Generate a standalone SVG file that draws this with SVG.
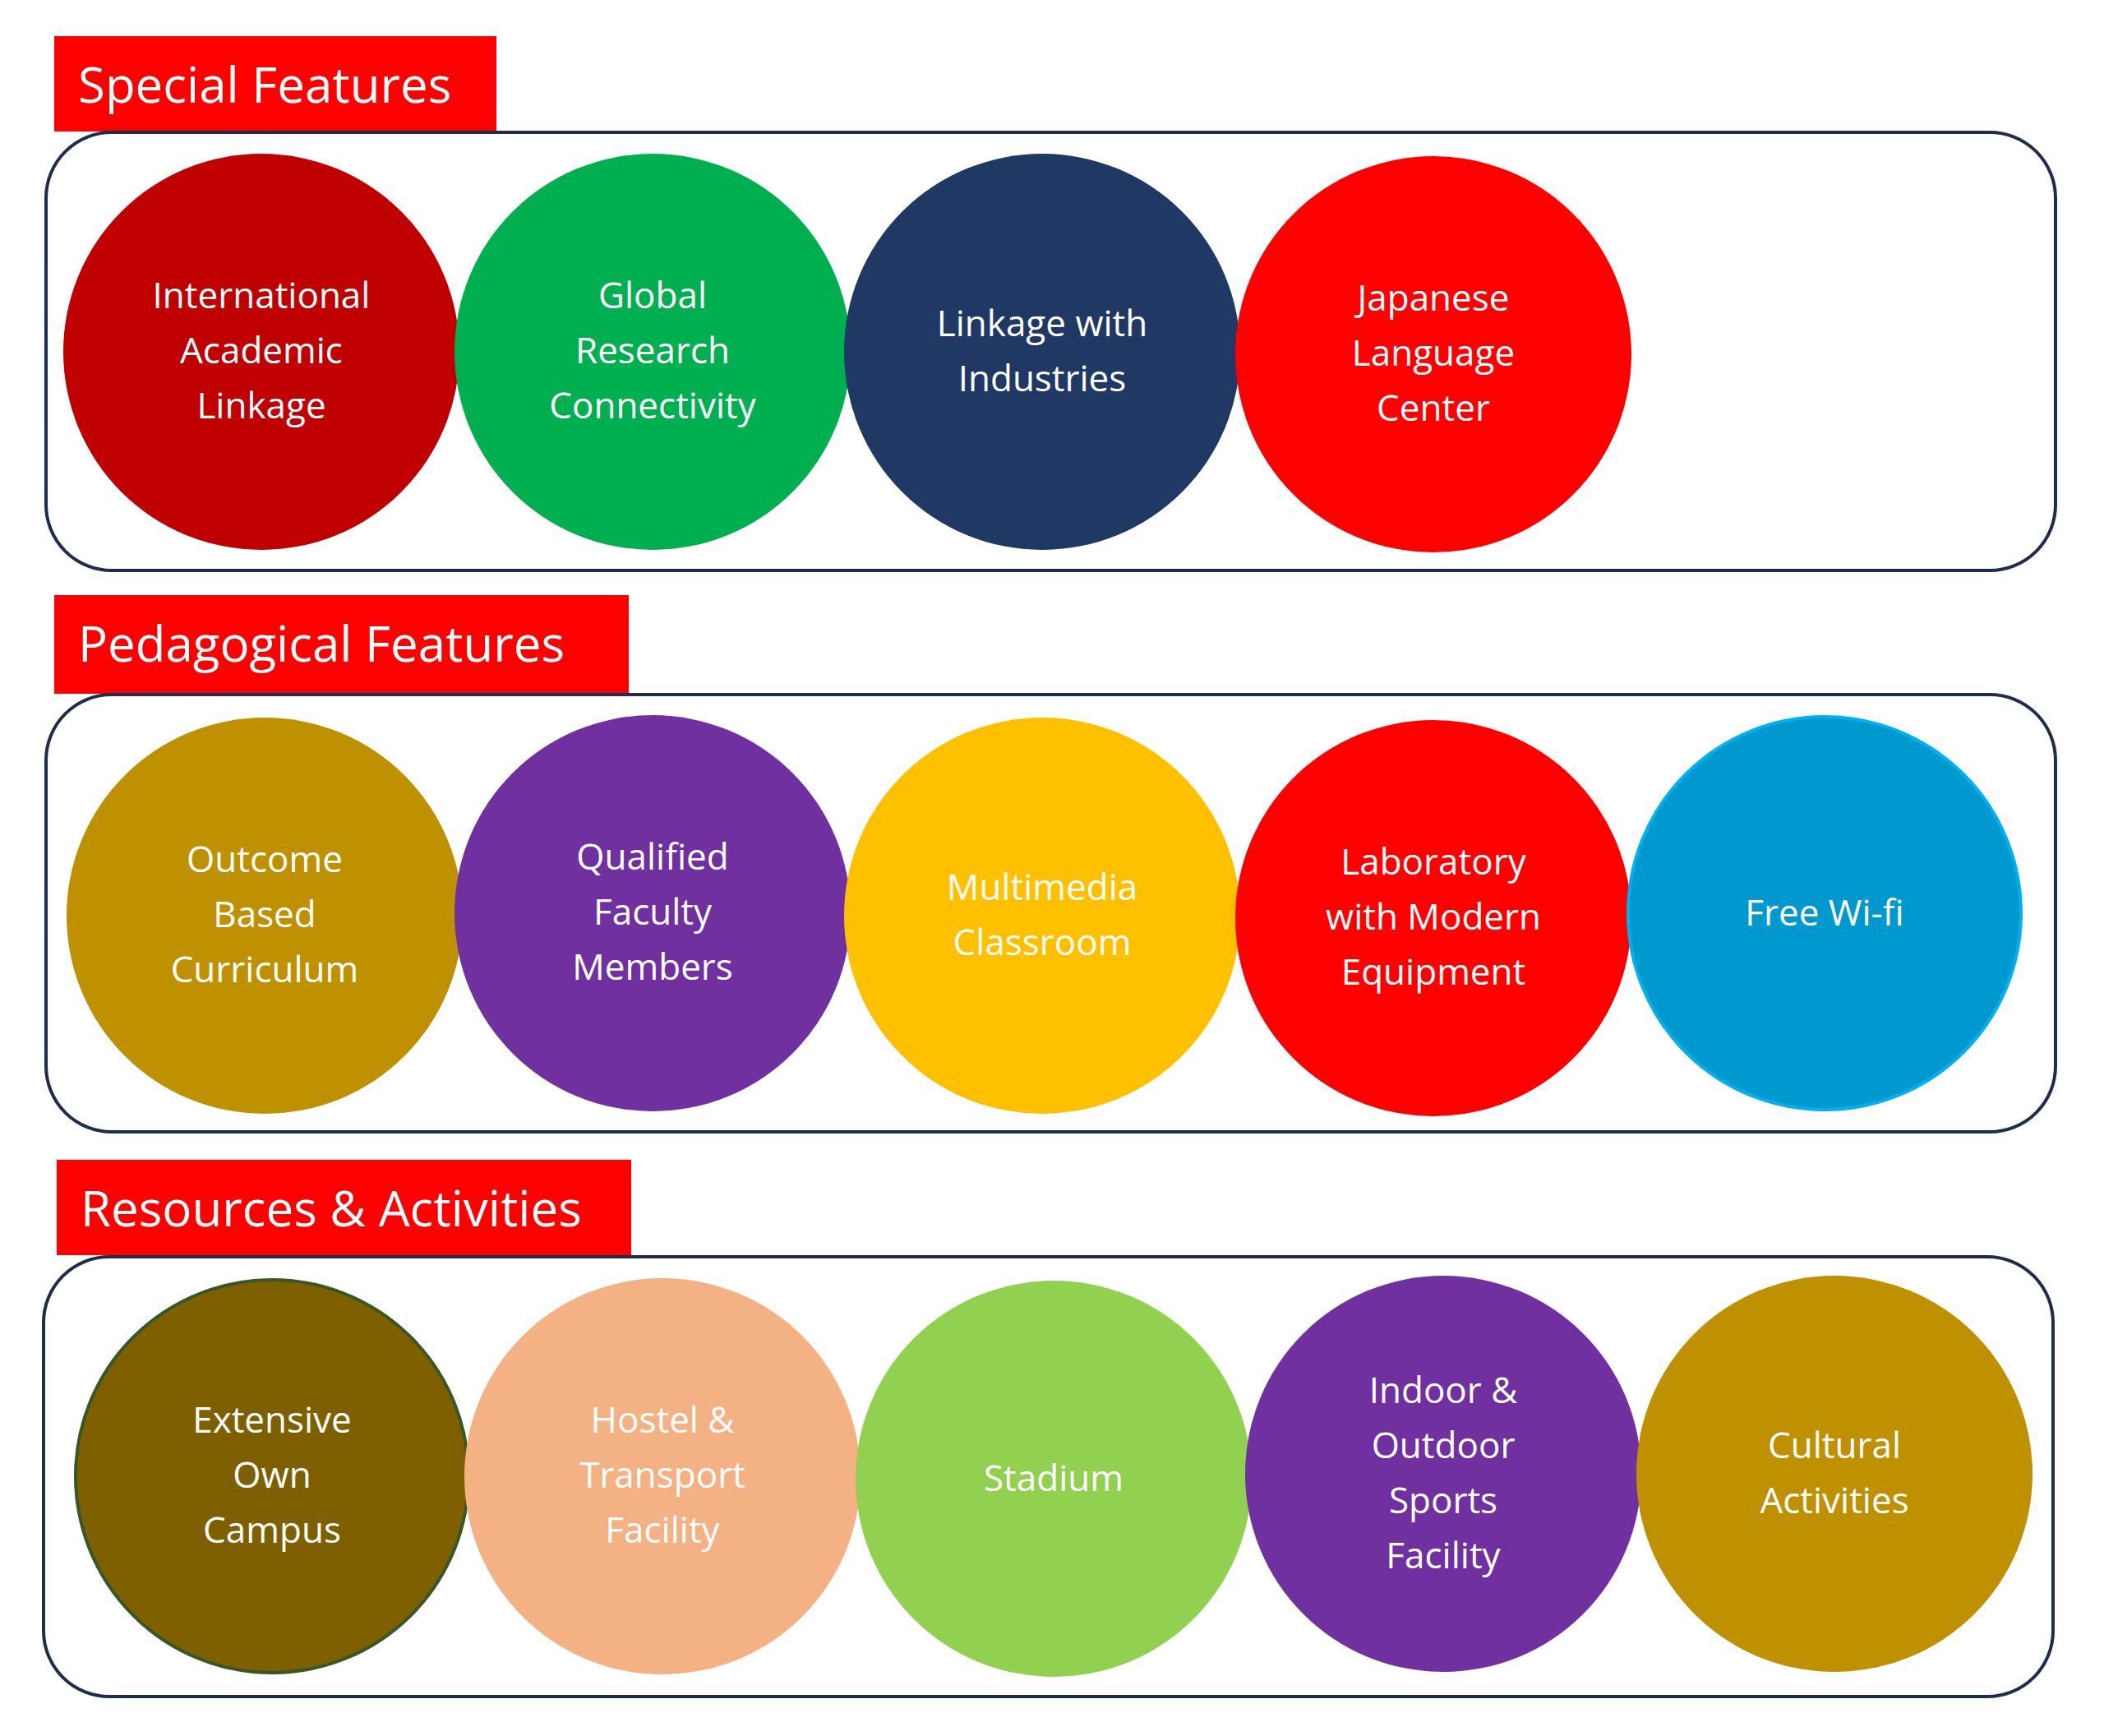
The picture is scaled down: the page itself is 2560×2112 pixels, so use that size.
<svg xmlns="http://www.w3.org/2000/svg" width="2560" height="2112" viewBox="0 0 2560 2112">
<style>
.hdr{fill:#FF0000}
.hdrt{font-family:"Open Sans","Liberation Sans",sans-serif;font-size:60px;fill:#fff}
.box{fill:#fff;stroke:#1F2D4D;stroke-width:4}
.t{font-family:"Open Sans","Liberation Sans",sans-serif;font-size:44px;fill:#fff;text-anchor:middle}
</style>
<rect width="2560" height="2112" fill="#fff"/>
<g id="sec1">
<rect class="hdr" x="66" y="44" width="538" height="116"/>
<text class="hdrt" x="95" y="125">Special Features</text>
<rect class="box" x="56" y="161" width="2445" height="533" rx="80"/>
</g>
<g id="sec2">
<rect class="hdr" x="66" y="724" width="699" height="120"/>
<text class="hdrt" x="95" y="805">Pedagogical Features</text>
<rect class="box" x="56" y="845" width="2445" height="532" rx="80"/>
</g>
<g id="sec3">
<rect class="hdr" x="69" y="1411" width="699" height="116"/>
<text class="hdrt" x="98" y="1492">Resources &amp; Activities</text>
<rect class="box" x="53" y="1529" width="2445" height="535" rx="80"/>
</g>
<g id="n1"><circle cx="318" cy="428" r="241" fill="#C00000"/><text class="t" x="318" y="375">International</text><text class="t" x="318" y="442">Academic</text><text class="t" x="318" y="509">Linkage</text></g>
<g id="n2"><circle cx="794" cy="428" r="241" fill="#00B050"/><text class="t" x="794" y="375">Global</text><text class="t" x="794" y="442">Research</text><text class="t" x="794" y="509">Connectivity</text></g>
<g id="n3"><circle cx="1268" cy="428" r="241" fill="#1F3864"/><text class="t" x="1268" y="409">Linkage with</text><text class="t" x="1268" y="476">Industries</text></g>
<g id="n4"><circle cx="1744" cy="431" r="241" fill="#FF0000"/><text class="t" x="1744" y="378">Japanese</text><text class="t" x="1744" y="445">Language</text><text class="t" x="1744" y="512">Center</text></g>
<g id="n5"><circle cx="322" cy="1114" r="241" fill="#BF9000"/><text class="t" x="322" y="1061">Outcome</text><text class="t" x="322" y="1128">Based</text><text class="t" x="322" y="1195">Curriculum</text></g>
<g id="n6"><circle cx="794" cy="1111" r="241" fill="#7030A0"/><text class="t" x="794" y="1058">Qualified</text><text class="t" x="794" y="1125">Faculty</text><text class="t" x="794" y="1192">Members</text></g>
<g id="n7"><circle cx="1268" cy="1114" r="241" fill="#FFC000"/><text class="t" x="1268" y="1095">Multimedia</text><text class="t" x="1268" y="1162">Classroom</text></g>
<g id="n8"><circle cx="1744" cy="1117" r="241" fill="#FF0000"/><text class="t" x="1744" y="1064">Laboratory</text><text class="t" x="1744" y="1131">with Modern</text><text class="t" x="1744" y="1198">Equipment</text></g>
<g id="n9"><circle cx="2220" cy="1111" r="239" fill="#0099CF" stroke="#00B0F0" stroke-width="4"/><text class="t" x="2220" y="1126">Free Wi-fi</text></g>
<g id="n10"><circle cx="331" cy="1796" r="239" fill="#7F6000" stroke="#385723" stroke-width="4"/><text class="t" x="331" y="1743">Extensive</text><text class="t" x="331" y="1810">Own</text><text class="t" x="331" y="1877">Campus</text></g>
<g id="n11"><circle cx="806" cy="1796" r="241" fill="#F4B183"/><text class="t" x="806" y="1743">Hostel &amp;</text><text class="t" x="806" y="1810">Transport</text><text class="t" x="806" y="1877">Facility</text></g>
<g id="n12"><circle cx="1282" cy="1799" r="241" fill="#92D050"/><text class="t" x="1282" y="1814">Stadium</text></g>
<g id="n13"><circle cx="1756" cy="1793" r="241" fill="#7030A0"/><text class="t" x="1756" y="1707">Indoor &amp;</text><text class="t" x="1756" y="1774">Outdoor</text><text class="t" x="1756" y="1841">Sports</text><text class="t" x="1756" y="1908">Facility</text></g>
<g id="n14"><circle cx="2232" cy="1793" r="241" fill="#BF9000"/><text class="t" x="2232" y="1774">Cultural</text><text class="t" x="2232" y="1841">Activities</text></g>
<g id="connectors"/>
</svg>
